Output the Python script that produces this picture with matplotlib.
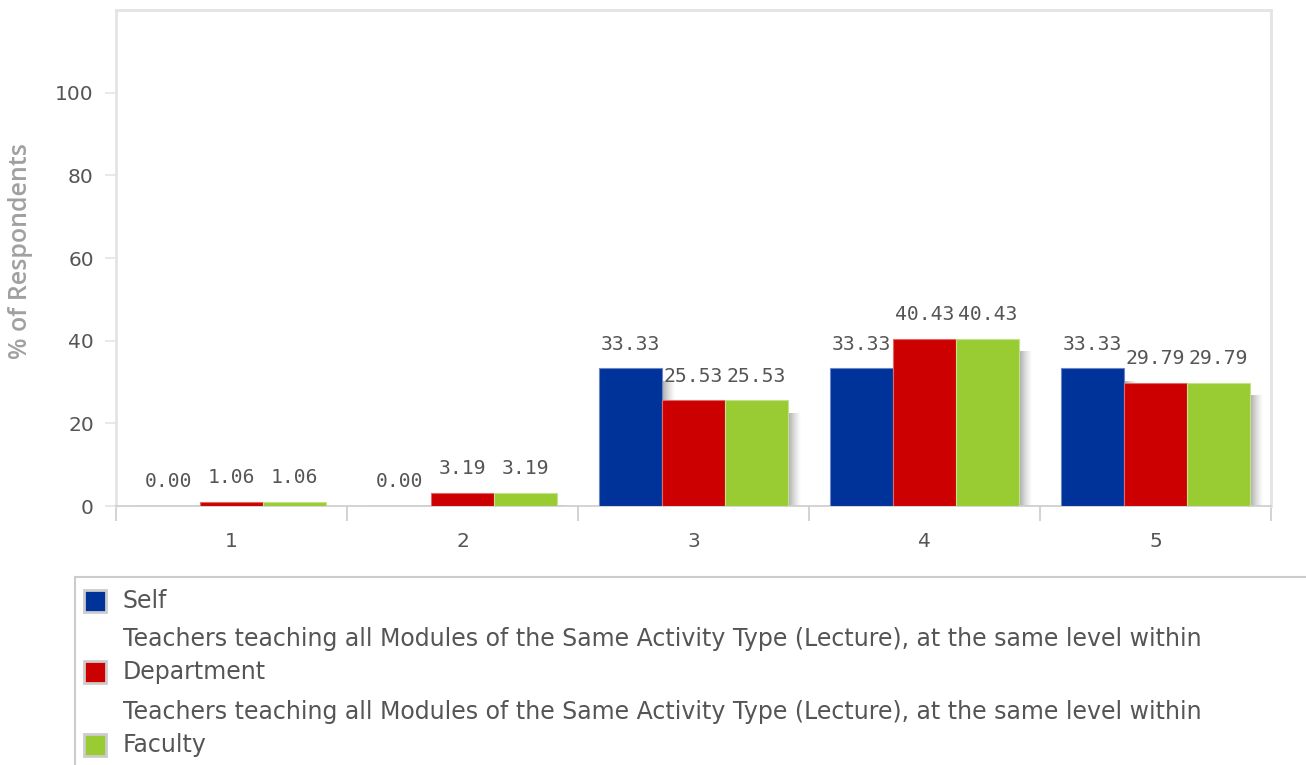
import numpy as np
import matplotlib
matplotlib.use("Agg")
from matplotlib import pyplot as plt
from matplotlib.patches import Rectangle

categories = ["1", "2", "3", "4", "5"]
series_names = [
    "Self",
    "Teachers teaching all Modules of the Same Activity Type (Lecture), at the same level within\nDepartment",
    "Teachers teaching all Modules of the Same Activity Type (Lecture), at the same level within\nFaculty",
]
self_vals = [0.00, 0.00, 33.33, 33.33, 33.33]
dept_vals = [1.06, 3.19, 25.53, 40.43, 29.79]
faculty_vals = [1.06, 3.19, 25.53, 40.43, 29.79]
yticks = [0, 20, 40, 60, 80, 100]

colors = ["#003399", "#cc0000", "#99cc33"]
edges = ["#6a86c8", "#e06a6a", "#c4e08a"]
txt = "#555555"
grid = "#e4e4e4"

fig = plt.figure(figsize=(13.06, 7.65), dpi=100)
ax = fig.add_axes([116 / 1306, 1 - 506 / 765, 1155 / 1306, 496 / 765])

x = np.arange(len(categories))
w = 0.272
px = 1 / 231.0  # one pixel in x data units
all_vals = [self_vals, dept_vals, faculty_vals]
for i, vals in enumerate(all_vals):
    pos = x + (i - 1) * w
    vals = np.array(vals)
    # soft shadow on the right side of each bar, fading outwards
    for j in range(13):
        a = 0.32 * (1 - j / 13.0) ** 1.3
        top = np.maximum(vals - 3.0, 0)
        ax.bar(pos + w / 2 + j * px, top, px * 1.05, align="edge",
               color="#000000", alpha=a, linewidth=0, zorder=1)
    ax.bar(pos, vals, w, color=colors[i], edgecolor=edges[i], linewidth=0.8, zorder=3)
    for p, v in zip(pos, vals):
        ax.annotate(f"{v:.2f}", (p, v), xytext=(0, 10.5), textcoords="offset points",
                    ha="center", va="bottom", fontsize=14.2, color=txt,
                    family="DejaVu Sans Mono", zorder=4)

ax.set_xlim(-0.5, len(categories) - 0.5)
ax.set_ylim(0, 120)
ax.set_yticks(yticks)
ax.set_yticklabels([str(t) for t in yticks])
ax.set_xticks(x)
ax.set_xticklabels(categories)
ax.set_xticks(np.arange(-0.5, len(categories)), minor=True)
ax.tick_params(axis="x", which="major", length=0, pad=19, labelsize=14.5, labelcolor=txt)
ax.tick_params(axis="x", which="minor", length=11, width=1.2, color="#cccccc", direction="out")
ax.tick_params(axis="y", length=8, width=1.2, color=grid, pad=8, labelsize=14.5, labelcolor=txt)
for s in ["left", "top", "right"]:
    ax.spines[s].set_color(grid)
    ax.spines[s].set_linewidth(2)
ax.spines["bottom"].set_color("#cccccc")
ax.spines["bottom"].set_linewidth(1.2)
fig.text(21 / 1306, 1 - 251 / 765, "% of Respondents", fontsize=18, color="#a0a0a0",
         family="Open Sans", weight="semibold", rotation=90, ha="center", va="center")

# legend box, drawn in figure pixels
fig.patches.append(Rectangle((75 / 1306, -0.1), 1.0, (1 - 577 / 765) + 0.1,
                             transform=fig.transFigure, facecolor="white",
                             edgecolor="#cccccc", linewidth=1.5))
patch_y = [601, 672, 745]
text_y = [601, 655.5, 728.5]
for i, name in enumerate(series_names):
    py = patch_y[i]
    fig.patches.append(Rectangle((84 / 1306, 1 - (py + 11) / 765), 22 / 1306, 22 / 765,
                                 transform=fig.transFigure, facecolor=colors[i],
                                 edgecolor="#cccccc", linewidth=2))
    fig.text(123 / 1306, 1 - text_y[i] / 765, name, fontsize=17, color=txt,
             va="center", ha="left", linespacing=1.45)

fig.savefig("out.png", dpi=100)
